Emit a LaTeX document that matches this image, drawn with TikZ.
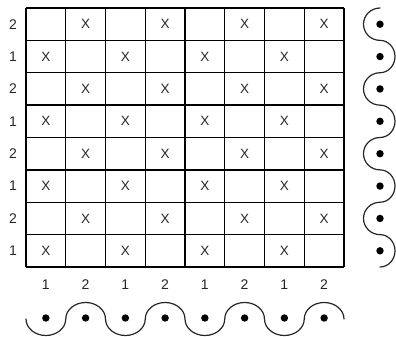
\documentclass[tikz,border=0pt]{standalone}
\usepackage{fontspec}
\setmainfont{Liberation Sans}
\begin{document}
\begin{tikzpicture}[x=1pt,y=-1pt,
  gridline/.style={line width=1.4pt,black},
  wave/.style={line width=1.2pt,black!85,line cap=round},
  lbl/.style={font=\fontsize{14}{14}\selectfont,text=black!85,inner sep=0pt},
  cross/.style={font=\fontsize{13.5}{13.5}\selectfont,text=black!85,inner sep=0pt},
  dot/.style={circle,fill=black,inner sep=0pt,minimum size=7.4pt}]
\useasboundingbox (0,0) rectangle (396,337);
\def\cw{39.75}
\def\rh{32.375}
% grid
\foreach \i in {0,...,8}{
  \draw[gridline] ({26+\i*\cw},8) -- ({26+\i*\cw},267);
  \draw[gridline] (26,{8+\i*\rh}) -- (344,{8+\i*\rh});
}
% crosses
\foreach \r in {1,...,8}{
  \foreach \c in {1,...,8}{
    \pgfmathtruncatemacro{\s}{mod(\r+\c,2)}
    \ifnum\s=1
      \node[cross] (x\r\c) at ({26+(\c-0.5)*\cw},{8+(\r-0.5)*\rh}) {X};
    \fi
  }
}
% row labels
\foreach \r/\t in {1/2,2/1,3/2,4/1,5/2,6/1,7/2,8/1}{
  \node[lbl] (r\r) at (13,{8+(\r-0.5)*\rh}) {\t};
}
% column labels
\foreach \c/\t in {1/1,2/2,3/1,4/2,5/1,6/2,7/1,8/2}{
  \node[lbl] (c\c) at ({26+(\c-0.5)*\cw},285) {\t};
}
% bottom wave
\draw[wave] (26,319)
  \foreach \k in {1,...,4}{
    arc[start angle=180,end angle=0,x radius=19.875,y radius=16.5]
    arc[start angle=180,end angle=360,x radius=19.875,y radius=16.5]
  };
\foreach \c in {1,...,8}{
  \node[dot] (bd\c) at ({26+(\c-0.5)*\cw},318) {};
}
% right wave
\draw[wave] (380,8)
  \foreach \k in {1,...,4}{
    arc[start angle=270,end angle=90,x radius=16.5,y radius=16.1875]
    arc[start angle=-90,end angle=90,x radius=15,y radius=16.1875]
  };
\foreach \r in {1,...,8}{
  \node[dot] (rd\r) at (380,{8+(\r-0.5)*\rh}) {};
}
\end{tikzpicture}
\end{document}
